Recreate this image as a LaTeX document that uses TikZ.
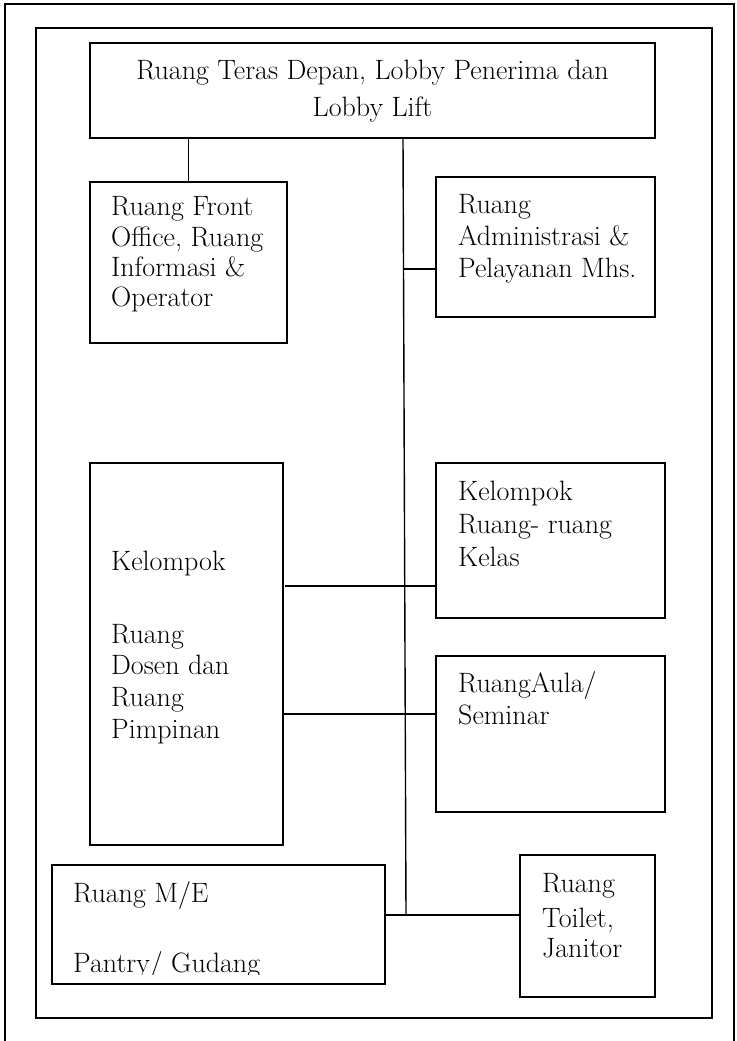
\documentclass[tikz,border=0pt]{standalone}
\usepackage{fontspec}
\begin{document}
\begin{tikzpicture}[x=1pt,y=-1pt,
  frame/.style={line width=1.3pt},
  box/.style={draw, line width=1.5pt, inner sep=0pt, outer sep=0pt, anchor=north west},
  link/.style={line width=1.4pt},
  txt/.style={inner sep=0pt, anchor=base west, font=\fontsize{28}{32}\selectfont},
  ctxt/.style={txt, anchor=base}]
\useasboundingbox (0,0) rectangle (736,1041);
% frames
\draw[frame] (5,1050) -- (5,4) -- (734,4) -- (734,1050);
\draw[frame] (36,28) rectangle (712,1018);
% boxes
\node[box, minimum width=565, minimum height=95] (top) at (90,43) {};
\node[box, minimum width=197, minimum height=161] (fo) at (90,182) {};
\node[box, minimum width=219, minimum height=140] (admin) at (436,177) {};
\node[box, minimum width=193, minimum height=382] (kd) at (90,463) {};
\node[box, minimum width=229, minimum height=155] (kelas) at (436,463) {};
\node[box, minimum width=229, minimum height=156] (aula) at (436,656) {};
\node[box, minimum width=333, minimum height=119] (me) at (52,865) {};
\node[box, minimum width=135, minimum height=142] (toilet) at (520,855) {};
% texts
\node[ctxt] (t1) at (372.5,80) {Ruang Teras Depan, Lobby Penerima dan};
\node[ctxt] (t2) at (372.5,116) {Lobby Lift};
\node[txt] (f1) at (111,215) {Ruang Front};
\node[txt] (f2) at (111,246) {Office, Ruang};
\node[txt] (f3) at (111,276) {Informasi \&};
\node[txt] (f4) at (111,306) {Operator};
\node[txt] (a1) at (458,213) {Ruang};
\node[txt] (a2) at (458,245) {Administrasi \&};
\node[txt] (a3) at (458,277) {Pelayanan Mhs.};
\node[txt] (d1) at (111,570) {Kelompok};
\node[txt] (d2) at (111,643) {Ruang};
\node[txt] (d3) at (111,674) {Dosen dan};
\node[txt] (d4) at (111,706) {Ruang};
\node[txt] (d5) at (111,738) {Pimpinan};
\node[txt] (k1) at (458,500) {Kelompok};
\node[txt] (k2) at (458,533) {Ruang- ruang};
\node[txt] (k3) at (458,566) {Kelas};
\node[txt] (s1) at (458,692) {RuangAula/};
\node[txt] (s2) at (458,724) {Seminar};
\node[txt] (m1) at (73,902) {Ruang M/E};
\begin{scope}
\clip (52,865) rectangle (385,974);
\node[txt] (m2) at (73,972) {Pantry/ Gudang};
\end{scope}
\node[txt] (w1) at (542,892) {Ruang};
\node[txt] (w2) at (542,927) {Toilet,};
\node[txt] (w3) at (542,957) {Janitor};
% connectors
\coordinate (st) at (403,138);
\coordinate (sb) at (406,915);
\coordinate (ja) at (403.6,269);
\coordinate (jk) at (285,586);
\coordinate (jl) at (283,714);
\draw[link] (top.south -| fo.north) -- (fo.north);
\draw[link] (st) -- (sb);
\draw[link] (ja) -- (ja -| admin.west);
\draw[link] (jk) -- (jk -| kelas.west);
\draw[link] (jl) -- (jl -| aula.west);
\draw[link] (me.east |- sb) -- (sb -| toilet.west);
\end{tikzpicture}
\end{document}
